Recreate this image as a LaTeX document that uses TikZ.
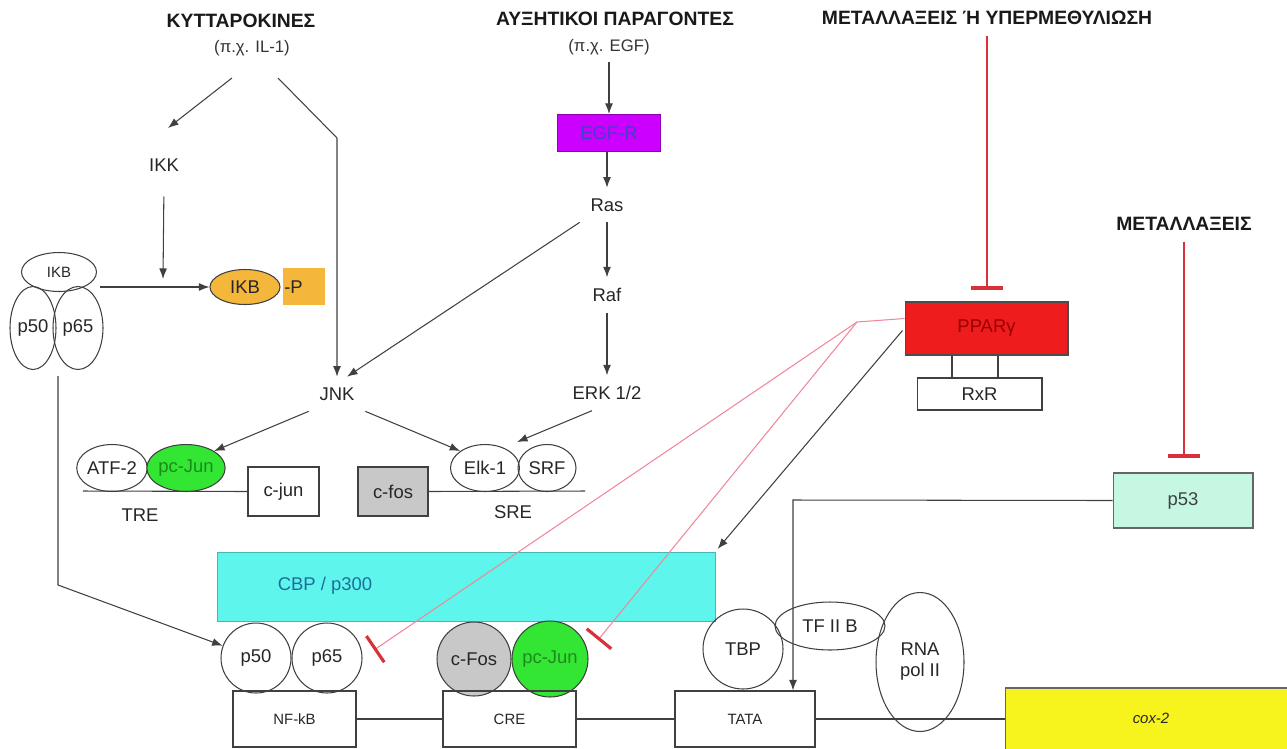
\documentclass[tikz,border=0pt]{standalone}
\usepackage{fontspec}
\setmainfont{Liberation Sans}
\usetikzlibrary{arrows.meta,shapes.geometric,calc}
\definecolor{lncol}{HTML}{404040}
\definecolor{orangeF}{HTML}{F4B73C}
\definecolor{purpleF}{HTML}{CC00FF}
\definecolor{egftext}{HTML}{4040C8}
\definecolor{redF}{HTML}{EE1C1C}
\definecolor{redtext}{HTML}{9A0000}
\definecolor{greenF}{HTML}{33E633}
\definecolor{greentext}{HTML}{1E8A1E}
\definecolor{cyanF}{HTML}{5DF5EC}
\definecolor{cyantext}{HTML}{1F6E99}
\definecolor{mintF}{HTML}{C5F7E2}
\definecolor{yellowF}{HTML}{F7F31C}
\definecolor{grayF}{HTML}{C8C8C8}
\definecolor{pinkL}{HTML}{F0879A}
\definecolor{inhred}{HTML}{D9303A}
\begin{document}
\begin{tikzpicture}[x=0.02cm,y=-0.02cm,
  ttl/.style={font=\fontsize{11}{13}\selectfont\bfseries, text=black!90, inner sep=6pt},
  sub/.style={font=\fontsize{9.5}{11}\selectfont, text=black!80, inner sep=4pt},
  lbl/.style={font=\fontsize{10.5}{12}\selectfont, text=black!85, inner sep=6pt},
  sml/.style={font=\fontsize{8.5}{10}\selectfont, text=black!85},
  ln/.style={draw=lncol, line width=0.6pt},
  arr/.style={ln, -{Latex[length=6pt,width=4.5pt]}},
  inh/.style={draw=inhred, line width=0.8pt, -{Bar[width=18pt,line width=2pt]}},
  pinh/.style={draw=pinkL, line width=0.6pt, -{Bar[width=18pt,line width=1.8pt,color=inhred]}},
  ell/.style={ellipse, draw=lncol, line width=0.6pt, inner sep=0pt, font=\fontsize{10.5}{12}\selectfont, text=black!85},
  circ/.style={circle, draw=lncol, line width=0.6pt, inner sep=0pt, font=\fontsize{10.5}{12}\selectfont, text=black!85},
  bx/.style={rectangle, draw=lncol, line width=0.6pt, inner sep=0pt, font=\fontsize{10.5}{12}\selectfont, text=black!85},
]
\useasboundingbox (0,0) rectangle (1287,748);

% titles
\node[ttl] (t1) at (241,21) {ΚΥΤΤΑΡΟΚΙΝΕΣ};
\node[sub] (t1b) at (252,48) {(π.χ. IL-1)};
\node[ttl] (t2) at (615,19) {ΑΥΞΗΤΙΚΟΙ ΠΑΡΑΓΟΝΤΕΣ};
\node[sub] (t2b) at (609,47) {(π.χ. EGF)};
\node[ttl] (t3) at (987,18) {ΜΕΤΑΛΛΑΞΕΙΣ Ή ΥΠΕΡΜΕΘΥΛΙΩΣΗ};
\node[ttl] (t4) at (1184,224) {ΜΕΤΑΛΛΑΞΕΙΣ};

% cytokine branch
\node[lbl] (ikk) at (164,165) {IKK};
\node[lbl] (jnk) at (337,394) {JNK};
\coordinate (k1s) at (232,78);
\coordinate (k2s) at (278,78);
\coordinate (k2m) at (337,138);
\draw[arr] (k1s) -- (168,128) coordinate (k1e);
\draw[arr] (k2s) -- (k2m) -- (jnk.north);

% IkB complex
\node[ell, minimum width=1.5cm, minimum height=0.78cm, font=\fontsize{8.5}{10}\selectfont] (ikb) at (59,272) {IKB};
\node[ell, minimum width=0.92cm, minimum height=1.66cm] (p50a) at (33,328) {p50};
\node[ell, minimum width=1.0cm, minimum height=1.66cm] (p65a) at (78,328) {p65};
\node[rectangle, fill=orangeF, minimum width=0.84cm, minimum height=0.74cm, inner sep=0pt] (pbox) at (304,286.5) {};
\node[lbl, anchor=west, inner sep=0pt] (ptxt) at (284,287) {-P};
\node[ell, fill=orangeF, minimum width=1.4cm, minimum height=0.7cm] (ikbp) at (245,287) {IKB};
\coordinate (hs) at (100,287);
\draw[arr] (hs) -- (ikbp.west);
\coordinate (ikkend) at (163,279);
\draw[arr, shorten <=8pt] (ikk.south) -- (ikkend);

% growth factor branch
\node[bx, fill=purpleF, draw=purpleF!70!black, minimum width=2.06cm, minimum height=0.74cm, text=egftext] (egfr) at (609,133) {EGF-R};
\node[lbl] (ras) at (607,205) {Ras};
\node[lbl] (raf) at (607,295) {Raf};
\node[lbl] (erk) at (607,393) {ERK 1/2};
\draw[arr] (t2b) -- (egfr);
\draw[arr] (egfr.south -| ras) -- (ras.north);
\draw[arr] (ras) -- (raf);
\draw[arr] (raf) -- (erk);
\draw[arr] (ras.south west) -- (jnk.60);

% TRE / SRE
\node[ell, minimum width=1.4cm, minimum height=0.94cm] (atf) at (112,468) {ATF-2};
\node[ell, fill=greenF, minimum width=1.56cm, minimum height=0.94cm, text=greentext] (pcjun) at (186,468) {pc-Jun};
\node[bx, fill=white, minimum width=1.42cm, minimum height=0.98cm] (cjun) at (283.5,491.5) {c-jun};
\node[bx, fill=grayF, minimum width=1.4cm, minimum height=0.98cm] (cfos) at (393,491.5) {c-fos};
\node[ell, minimum width=1.38cm, minimum height=0.94cm] (elk) at (485,468) {Elk-1};
\node[ell, minimum width=1.16cm, minimum height=0.94cm] (srf) at (547,468) {SRF};
\node[lbl] (tre) at (140,515) {TRE};
\node[lbl] (sre) at (513,512) {SRE};
\coordinate (tre0) at (83,491);
\coordinate (sre1) at (585,491);
\draw[ln] (tre0) -- (cjun.west);
\draw[ln] (cfos.east) -- (sre1);
\coordinate (jn) at (517,442);
\draw[arr] (jnk.south west) -- (pcjun.north east);
\draw[arr] (jnk.south east) -- (elk.north west);
\draw[arr] ($(erk.south)+(-15,0)$) -- (jn);

% CBP / p300
\node[rectangle, fill=cyanF, draw=cyanF!75!black, line width=0.5pt, minimum width=9.96cm, minimum height=1.38cm, inner sep=0pt] (cbp) at (466,586.5) {};
\node[lbl, text=cyantext] (cbpt) at (325,586) {CBP / p300};

% factors on promoter
\node[circ, minimum size=1.4cm] (p50b) at (256,658) {p50};
\node[circ, minimum size=1.4cm] (p65b) at (327,658) {p65};
\node[circ, fill=grayF, minimum size=1.48cm] (cfosb) at (474,659) {c-Fos};
\node[circ, fill=greenF, text=greentext, minimum size=1.52cm] (pcjunb) at (550,659) {pc-Jun};
\node[circ, minimum size=1.6cm] (tbp) at (743,649) {TBP};
\node[ell, minimum width=2.2cm, minimum height=0.96cm] (tfiib) at (830,626) {TF II B};
\node[ell, minimum width=1.76cm, minimum height=2.78cm, align=center] (rna) at (920,662) {RNA\\pol II};

% promoter boxes
\node[bx, sml, minimum width=2.46cm, minimum height=1.12cm] (nfkb) at (294.5,719) {NF-kB};
\node[bx, sml, minimum width=2.66cm, minimum height=1.12cm] (cre) at (509.5,719) {CRE};
\node[bx, sml, minimum width=2.8cm, minimum height=1.12cm] (tata) at (745,719) {TATA};
\node[rectangle, fill=yellowF, draw=black!60, line width=0.6pt, minimum width=5.9cm, minimum height=1.4cm, inner sep=0pt] (cox) at (1152.5,723) {};
\node[sml, font=\fontsize{8.5}{10}\selectfont\itshape] (coxt) at (1151,718) {cox-2};
\draw[ln] (nfkb.east) -- (cre.west);
\draw[ln] (cre.east) -- (tata.west);
\draw[ln] (tata.east) -- (cox.west |- tata.east);

% NF-kB arrow
\coordinate (nj) at (58,376);
\coordinate (nb) at (58,585);
\draw[arr] (nj) -- (nb) -- (p50b);

% PPAR gamma
\node[bx, fill=redF, draw=black!70, minimum width=3.26cm, minimum height=1.06cm, text=redtext] (ppar) at (986.5,328.5) {PPARγ};
\node[bx, minimum width=2.5cm, minimum height=0.64cm] (rxr) at (979.5,394) {RxR};
\coordinate (ca) at (952,0);
\coordinate (cb) at (998,0);
\draw[ln] (ppar.south -| ca) -- (rxr.north -| ca);
\draw[ln] (ppar.south -| cb) -- (rxr.north -| cb);
\coordinate (tb3) at (987,290);
\draw[inh] (t3.south) -- (tb3);
\coordinate (pk) at (857,322);
\coordinate (b1) at (374,650);
\coordinate (b2) at (598,640);
\draw[pinh] ($(ppar.west)+(0,-10)$) -- (pk) -- (b1);
\draw[pinh] (pk) -- (b2);
\draw[arr, shorten >=2pt] ($(ppar.west)+(-2,2)$) -- (cbp.north east);

% p53
\node[bx, fill=mintF, draw=black!60, minimum width=2.8cm, minimum height=1.1cm, text=black!75] (p53) at (1183,500.5) {p53};
\coordinate (tb4) at (1184,458);
\draw[inh] (t4.south) -- (tb4);
\coordinate (pj) at (793,500);
\draw[arr] (p53.west) -- (pj) -- (pj |- tata.north);
\end{tikzpicture}
\end{document}
